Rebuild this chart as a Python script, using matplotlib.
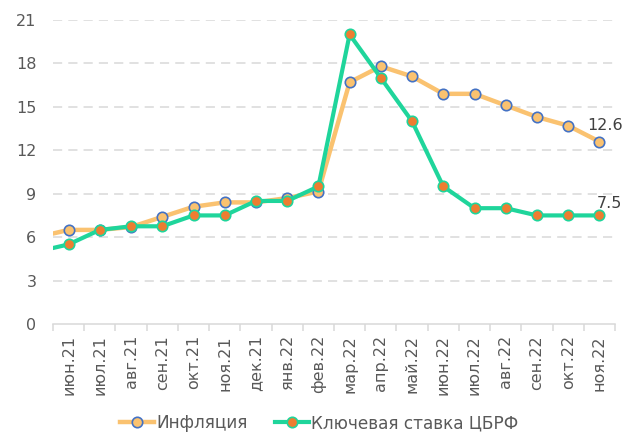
import matplotlib
matplotlib.use("Agg")
import matplotlib.pyplot as plt
from matplotlib.lines import Line2D

plt.rcParams['font.family'] = ['DejaVu Sans']

labels = ["июн.21", "июл.21", "авг.21", "сен.21", "окт.21", "ноя.21", "дек.21",
          "янв.22", "фев.22", "мар.22", "апр.22", "май.22", "июн.22", "июл.22",
          "авг.22", "сен.22", "окт.22", "ноя.22"]
# value for the month before the first label (line enters from the left edge)
infl_prev = 6.0
rate_prev = 5.0
inflation = [6.5, 6.5, 6.7, 7.4, 8.1, 8.4, 8.4, 8.7, 9.15, 16.7, 17.8, 17.1,
             15.9, 15.9, 15.1, 14.3, 13.7, 12.6]
key_rate = [5.5, 6.5, 6.75, 6.75, 7.5, 7.5, 8.5, 8.5, 9.5, 20.0, 17.0, 14.0,
            9.5, 8.0, 8.0, 7.5, 7.5, 7.5]
yticks = [0, 3, 6, 9, 12, 15, 18, 21]

c_infl = "#FAC270"
c_blue = "#4472C4"
c_green = "#1FD59B"
c_orange = "#ED7D31"
c_text = "#595959"
c_grid = "#D9D9D9"

fig = plt.figure(figsize=(6.27, 4.34), dpi=100)
ax = fig.add_axes([53/627, 1 - 324/434, (615-53)/627, (324-20)/434])

n = len(labels)
xs = list(range(n))
xfull = [-1] + xs

ax.plot(xfull, [infl_prev] + inflation, color=c_infl, lw=3.2, solid_capstyle='butt', zorder=3)
ax.plot(xs, inflation, ls='none', marker='o', ms=7.5, mfc=c_infl, mec=c_blue, mew=1.2, zorder=4)
ax.plot(xfull, [rate_prev] + key_rate, color=c_green, lw=3.0, solid_capstyle='butt', zorder=5)
ax.plot(xs, key_rate, ls='none', marker='o', ms=7.5, mfc=c_orange, mec=c_green, mew=1.2, zorder=6)

ax.set_xlim(-0.5, n - 0.5)
ax.set_ylim(0, 21)

for y in yticks[1:]:
    ax.axhline(y, color=c_grid, lw=1.1, ls=(0, (6, 4)), zorder=1)

for s in ['top', 'right', 'left']:
    ax.spines[s].set_visible(False)
ax.spines['bottom'].set_color(c_grid)
ax.spines['bottom'].set_linewidth(1.1)

ax.set_yticks(yticks)
ax.set_yticklabels([str(v) for v in yticks], color=c_text, fontsize=11.5)
ax.tick_params(axis='y', length=0, pad=12)

ax.set_xticks([i - 0.5 for i in range(n + 1)])
ax.set_xticklabels([])
ax.tick_params(axis='x', which='major', length=5, color=c_grid, width=1.1)
ax.set_xticks(xs, minor=True)
ax.set_xticklabels(labels, minor=True, rotation=90, color=c_text, fontsize=11.5)
ax.tick_params(axis='x', which='minor', length=0, pad=8)

ax.annotate(f"{inflation[-1]}", (xs[-1], inflation[-1]), xytext=(4, 6),
            textcoords='offset points', ha='center', va='bottom', color="#404040", fontsize=11.5)
ax.annotate(f"{key_rate[-1]}", (xs[-1], key_rate[-1]), xytext=(7, 3),
            textcoords='offset points', ha='center', va='bottom', color="#404040", fontsize=11.5)

handles = [
    Line2D([0], [0], color=c_infl, lw=3.2, marker='o', ms=7.5, mfc=c_infl, mec=c_blue, mew=1.2),
    Line2D([0], [0], color=c_green, lw=3.0, marker='o', ms=7.5, mfc=c_orange, mec=c_green, mew=1.2),
]
fig.legend(handles, ["Инфляция", "Ключевая ставка ЦБРФ"], loc='center',
           bbox_to_anchor=(0.509, 1 - 423/434), ncol=2, frameon=False,
           fontsize=12.2, labelcolor=c_text, handlelength=2.0, handletextpad=0.15,
           columnspacing=1.6)

fig.savefig("out.png", dpi=100)
